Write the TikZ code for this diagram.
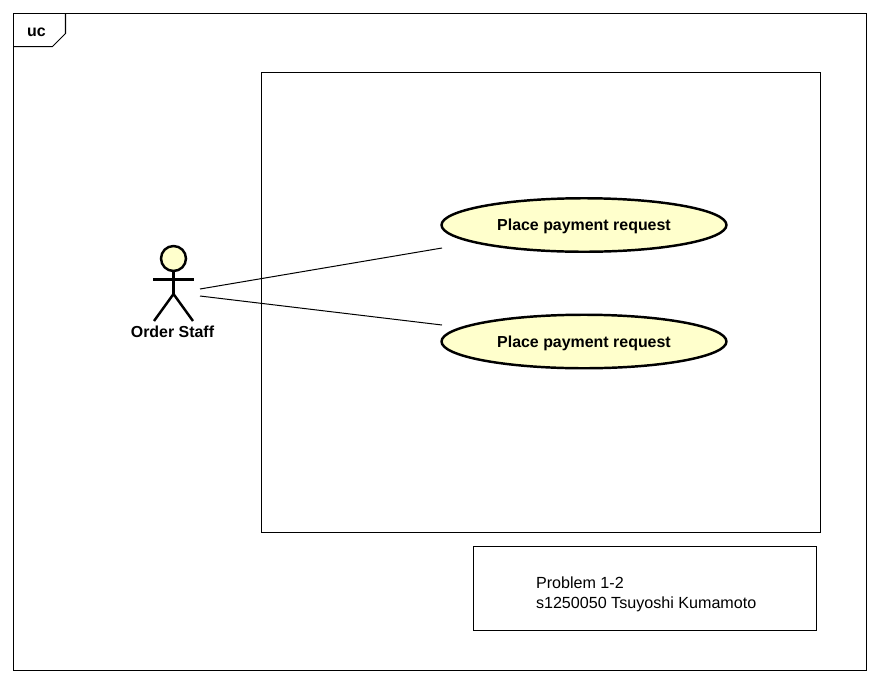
\documentclass[tikz,border=0pt]{standalone}
\usepackage{fontspec}
\setmainfont{Liberation Sans}
\usetikzlibrary{shapes.geometric}
\definecolor{ucYellow}{RGB}{255,255,204}

\begin{document}
\begin{tikzpicture}[
    x=0.02cm, y=-0.02cm,
    line width=0.57pt,
    usecase/.style={ellipse, draw, line width=1.4pt, fill=ucYellow, minimum width=5.7cm, minimum height=1.07cm, inner sep=0pt, text height=8.5pt, text depth=2pt, font=\fontsize{9.07}{11}\selectfont\bfseries},
    head/.style={circle, draw, line width=1.4pt, fill=ucYellow, minimum size=0.5cm, inner sep=0pt},
    limb/.style={line width=1.4pt},
    title/.style={font=\fontsize{9.07}{11}\selectfont\bfseries, inner sep=0pt}
]
  \useasboundingbox (0,0) rectangle (880,684);

  \draw (13.5,13.5) rectangle (866.5,670.5);
  \draw (13.5,46.5) -- (52.5,46.5) -- (65.5,33.5) -- (65.5,13.5);
  \node[title] (uc) at (36.5,32.5) {uc};

  \draw (261.5,72.5) rectangle (820.5,532.5);

  \node[usecase] (pay1) at (584,225) {Place payment request};
  \node[usecase] (pay2) at (584,341.5) {Place payment request};

  % actor
  \node[head] (staff) at (173.5,258.5) {};
  \coordinate (hip) at (173.5,294);
  \coordinate (armL) at (153,279.5);
  \coordinate (armR) at (194,279.5);
  \coordinate (footL) at (154,321);
  \coordinate (footR) at (193,321);
  \draw[limb] (staff) -- (hip);
  \draw[limb] (armL) -- (armR);
  \draw[limb] (footL) -- (hip) -- (footR);
  \node[title] (staffname) at (172.5,332) {Order Staff};

  \coordinate (from1) at (200,289);
  \coordinate (from2) at (200,296);
  \coordinate (to1) at (442,248);
  \coordinate (to2) at (442,325);
  \draw (from1) -- (to1);
  \draw (from2) -- (to2);

  % note
  \node[draw, minimum width=6.86cm, minimum height=1.68cm, inner sep=0pt] (note) at (645,588.5) {};
  \node[align=left, inner sep=0pt, anchor=west, font=\fontsize{9.17}{11.34}\selectfont] (notetext) at (535.5,594.5) {Problem 1-2\\s1250050 Tsuyoshi Kumamoto};
\end{tikzpicture}
\end{document}
